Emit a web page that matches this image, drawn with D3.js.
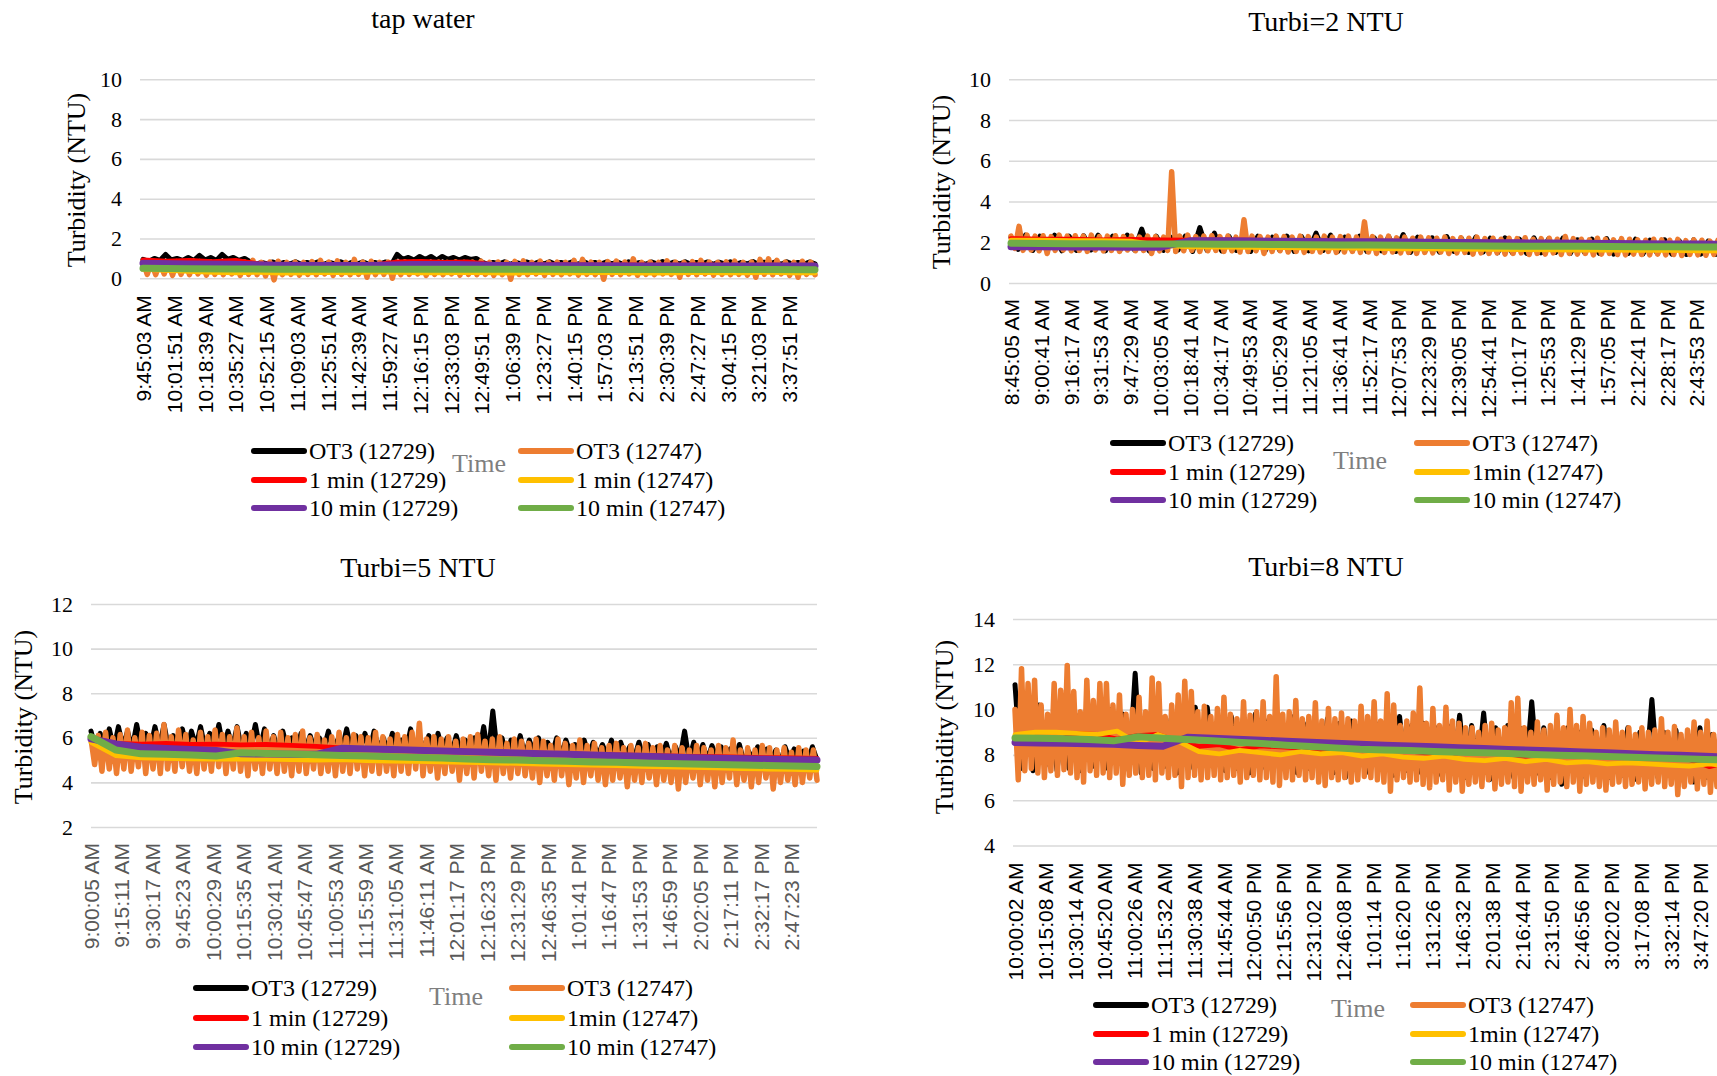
<!DOCTYPE html>
<html>
<head>
<meta charset="utf-8">
<title>Turbidity monitoring</title>
<script src="https://cdnjs.cloudflare.com/ajax/libs/d3/7.8.5/d3.min.js"></script>
<style>
  html, body { margin: 0; padding: 0; background: #ffffff; }
  svg { display: block; }
</style>
</head>
<body>
<svg id="chart" width="1717" height="1076"></svg>
<script>
// ---------------------------------------------------------------
// Series legend names and the x-axis time labels of each test
// ---------------------------------------------------------------
const namesTap = ["OT3 (12729)", "OT3 (12747)", "1 min (12729)", "1 min (12747)", "10 min (12729)", "10 min (12747)"];
const namesTurbi = ["OT3 (12729)", "OT3 (12747)", "1 min (12729)", "1min (12747)", "10 min (12729)", "10 min (12747)"];

const tapLabels = ["9:45:03 AM","10:01:51 AM","10:18:39 AM","10:35:27 AM","10:52:15 AM","11:09:03 AM","11:25:51 AM","11:42:39 AM","11:59:27 AM","12:16:15 PM","12:33:03 PM","12:49:51 PM","1:06:39 PM","1:23:27 PM","1:40:15 PM","1:57:03 PM","2:13:51 PM","2:30:39 PM","2:47:27 PM","3:04:15 PM","3:21:03 PM","3:37:51 PM"];
const tapSpan = ["9:45:03 AM", "3:52:04 PM"];
const tapTicks = [0, 2, 4, 6, 8, 10];

const t2Labels = ["8:45:05 AM","9:00:41 AM","9:16:17 AM","9:31:53 AM","9:47:29 AM","10:03:05 AM","10:18:41 AM","10:34:17 AM","10:49:53 AM","11:05:29 AM","11:21:05 AM","11:36:41 AM","11:52:17 AM","12:07:53 PM","12:23:29 PM","12:39:05 PM","12:54:41 PM","1:10:17 PM","1:25:53 PM","1:41:29 PM","1:57:05 PM","2:12:41 PM","2:28:17 PM","2:43:53 PM"];
const t2Span = ["8:45:05 AM", "3:01:29 PM"];
const t2Ticks = [0, 2, 4, 6, 8, 10];

const t5Labels = ["9:00:05 AM","9:15:11 AM","9:30:17 AM","9:45:23 AM","10:00:29 AM","10:15:35 AM","10:30:41 AM","10:45:47 AM","11:00:53 AM","11:15:59 AM","11:31:05 AM","11:46:11 AM","12:01:17 PM","12:16:23 PM","12:31:29 PM","12:46:35 PM","1:01:41 PM","1:16:47 PM","1:31:53 PM","1:46:59 PM","2:02:05 PM","2:17:11 PM","2:32:17 PM","2:47:23 PM"];
const t5Span = ["9:00:05 AM", "3:00:20 PM"];
const t5Ticks = [2, 4, 6, 8, 10, 12];

const t8Labels = ["10:00:02 AM","10:15:08 AM","10:30:14 AM","10:45:20 AM","11:00:26 AM","11:15:32 AM","11:30:38 AM","11:45:44 AM","12:00:50 PM","12:15:56 PM","12:31:02 PM","12:46:08 PM","1:01:14 PM","1:16:20 PM","1:31:26 PM","1:46:32 PM","2:01:38 PM","2:16:44 PM","2:31:50 PM","2:46:56 PM","3:02:02 PM","3:17:08 PM","3:32:14 PM","3:47:20 PM"];
const t8Span = ["10:00:02 AM", "4:02:19 PM"];
const t8Ticks = [4, 6, 8, 10, 12, 14];

// ---------------------------------------------------------------
// Turbidity readings (NTU), evenly sampled over each run
// ---------------------------------------------------------------
// tap water
const tapOT3a = [0.95,0.85,1.0,0.9,1.2,0.92,1.0,0.9,1.05,0.9,1.15,0.92,1.05,0.9,1.2,0.95,1.05,0.9,1.0,
  0.82,0.7,0.8,0.72,0.82,0.7,0.8,0.72,0.83,0.7,0.8,0.72,0.82,0.7,0.8,0.72,0.83,0.7,0.8,0.72,0.82,0.7,0.8,0.72,0.82,0.7,
  1.2,0.95,1.05,0.92,1.1,0.95,1.1,0.92,1.1,0.95,1.05,0.92,1.05,0.95,1.0,
  0.82,0.7,0.8,0.72,0.83,0.7,0.8,0.72,0.82,0.7,
  0.81,0.72,0.83,0.7,0.8,0.72,0.82,0.7,0.84,0.72,
  0.8,0.7,0.82,0.72,0.81,0.7,0.83,0.72,0.8,0.7,
  0.82,0.72,0.84,0.7,0.81,0.72,0.83,0.7,0.8,0.72,
  0.82,0.7,0.81,0.72,0.83,0.7,0.8,0.72,0.84,0.7,
  0.81,0.72,0.82,0.7,0.83,0.72,0.8,0.7,0.82,0.72];
const tapOT3b = [0.85,0.2,0.8,0.18,0.82,0.22,0.78,0.15,0.84,0.2,0.8,0.18,0.86,0.22,0.8,0.16,0.82,0.2,0.79,0.18,
  0.83,0.22,0.8,0.15,0.82,0.2,0.9,0.18,0.8,0.12,0.82,-0.08,0.86,0.18,0.8,0.2,0.82,0.16,0.8,0.2,
  0.84,0.18,0.9,0.22,0.82,0.15,0.88,0.2,0.8,0.18,0.95,0.2,0.82,0.05,0.86,0.18,0.8,0.2,0.82,0.0,
  0.8,0.18,0.83,0.2,0.8,0.22,0.82,0.15,0.79,0.2,0.82,0.18,0.8,0.22,0.83,0.16,0.8,0.2,0.82,0.18,
  0.86,0.2,0.8,0.15,0.82,0.18,0.8,-0.05,0.85,0.2,0.88,0.18,0.8,0.22,0.86,0.15,0.8,0.2,0.82,0.18,
  0.8,0.22,0.9,0.16,0.95,0.2,0.82,0.18,0.8,-0.05,0.84,0.2,0.86,0.18,0.82,0.22,0.98,0.15,0.8,0.2,
  0.82,0.18,0.8,0.22,0.88,0.2,0.82,0.05,0.8,0.2,0.84,0.18,0.9,0.22,0.82,0.16,0.8,0.2,0.83,0.18,
  0.86,0.2,0.8,0.16,0.82,0.05,0.95,0.2,0.98,0.18,0.9,0.22,0.82,0.15,0.8,0.05,0.86,0.2,0.82,0.18];
const tap1minA = [0.92,0.86,0.9,0.84,0.9,0.72,0.68,0.7,0.68,0.7,0.68,0.82,0.85,0.8,0.83,0.7,0.68,0.67,0.68,0.67,0.66,0.67,0.66,0.66,0.67,0.66,0.65,0.66,0.65,0.66];
const tap1minB = [0.45,0.4,0.35,0.3,0.28,0.3,0.26,0.28,0.3,0.27,0.32,0.3,0.28,0.27,0.3,0.28,0.26,0.3,0.28,0.27,0.3,0.28,0.26,0.28,0.3,0.27,0.28,0.3,0.28,0.27];
const tap10minA = [0.76,0.72,0.7,0.66,0.64,0.64,0.69,0.69,0.64,0.63,0.63,0.62,0.62,0.62,0.62,0.62];
const tap10minB = [0.5,0.48,0.47,0.46,0.46,0.45,0.45,0.46,0.45,0.45,0.44,0.44,0.44,0.44,0.44,0.43];

// Turbi = 2 NTU
const t2OT3a = [2.25,1.65,2.35,1.6,2.3,1.62,2.35,1.58,2.3,1.6,2.32,1.62,2.35,1.58,2.3,1.6,2.35,1.62,2.65,1.58,
  2.3,1.6,2.25,1.62,2.3,1.55,2.72,1.6,2.45,1.58,2.3,1.6,2.28,1.55,2.3,1.58,2.25,1.6,2.3,1.55,
  2.28,1.58,2.45,1.6,2.35,1.55,2.25,1.58,2.3,1.55,2.22,1.58,2.28,1.55,2.38,1.5,2.25,1.55,2.22,1.52,
  2.28,1.55,2.2,1.5,2.25,1.52,2.2,1.48,2.22,1.5,2.15,1.45,2.22,1.48,2.15,1.5,2.2,1.45,2.12,1.48,
  2.15,1.45,2.18,1.42,2.1,1.45,2.15,1.42,2.1,1.45,2.12,1.42,2.08,1.4,2.12,1.42,2.05,1.4,2.08,1.42];
const t2OT3b = [2.3,1.7,2.78,1.6,2.35,1.62,2.3,1.58,2.32,1.45,2.28,1.6,2.35,1.62,2.3,1.58,2.32,1.6,2.3,1.55,
  2.35,1.62,2.28,1.58,2.3,1.6,2.32,1.55,2.28,1.62,2.3,1.58,2.25,1.6,2.3,1.45,2.28,1.58,2.25,1.6,
  5.46,1.55,2.3,1.58,2.35,1.6,2.28,1.55,2.3,1.58,2.32,1.6,2.28,1.55,2.3,1.58,2.25,1.52,3.1,1.55,
  2.3,1.58,2.28,1.45,2.25,1.55,2.3,1.58,2.28,1.52,2.25,1.55,2.3,1.5,2.28,1.55,2.25,1.52,2.3,1.55,
  2.25,1.5,2.28,1.52,2.3,1.55,2.25,1.5,3.0,1.52,2.28,1.45,2.25,1.5,2.3,1.52,2.22,1.48,2.25,1.5,
  2.2,1.45,2.25,1.5,2.22,1.48,2.2,1.52,2.25,1.45,2.18,1.48,2.22,1.5,2.2,1.42,2.25,1.48,2.18,1.45,
  2.2,1.48,2.15,1.42,2.2,1.45,2.18,1.48,2.22,1.4,2.15,1.45,2.18,1.42,2.2,1.48,2.15,1.4,2.28,1.45,
  2.18,1.42,2.15,1.45,2.12,1.38,2.2,1.42,2.15,1.45,2.12,1.4,2.18,1.38,2.15,1.42,2.12,1.4,2.1,1.38,
  2.15,1.42,2.12,1.38,2.1,1.4,2.14,1.35,2.08,1.4,2.12,1.38,2.1,1.36,2.06,1.4,2.1,1.35,2.05,1.38];
const t21minA = [2.18,2.15,2.15,2.12,2.14,2.12,2.1,2.12,2.1,2.08,2.08,2.06,2.05,2.05,2.03,2.02,2.0,2.0,1.98,1.97,1.96,1.95,1.94,1.93,1.92];
const t21minB = [2.1,2.1,2.08,2.08,2.05,1.85,1.78,1.76,1.75,1.74,1.72,1.72,1.7,1.68,1.68,1.66,1.65,1.64,1.63,1.62,1.62,1.6,1.6,1.58,1.58];
const t210minA = [1.78,1.78,1.77,1.77,1.76,1.76,2.08,2.07,2.06,2.05,2.04,2.03,2.02,2.01,2.0,1.99,1.98,1.97,1.96,1.95,1.94,1.93,1.92,1.91,1.9];
const t210minB = [1.95,1.94,1.93,1.93,1.92,1.92,1.91,1.9,1.9,1.89,1.88,1.87,1.86,1.85,1.84,1.83,1.82,1.81,1.8,1.8,1.79,1.78,1.78,1.77,1.76];

// Turbi = 5 NTU
const t5OT3a = [6.3,5.5,6.2,5.6,6.4,5.5,6.5,5.6,6.3,5.5,6.6,5.6,6.2,5.5,6.5,5.6,6.6,5.5,6.1,5.6,
  6.4,5.5,6.3,5.6,6.5,5.5,6.2,5.6,6.6,5.5,6.3,5.6,6.5,5.5,6.2,5.6,6.6,5.5,6.4,5.5,
  6.1,5.4,6.3,5.5,6.0,5.4,6.2,5.5,6.1,5.4,6.0,5.5,6.3,5.4,5.9,5.5,6.4,5.4,6.1,5.5,
  6.2,5.4,6.3,5.5,6.0,5.4,6.2,5.5,5.9,5.4,6.4,5.4,6.0,5.4,6.1,5.3,6.2,5.4,6.0,5.3,
  6.1,5.3,5.9,5.2,6.0,5.3,6.5,5.2,7.2,5.3,6.0,5.2,5.9,5.3,6.1,5.2,5.9,5.3,6.0,5.2,
  5.8,5.3,6.0,5.2,5.9,5.3,5.7,5.2,5.9,5.2,5.8,5.2,5.7,5.2,5.9,5.1,5.8,5.2,5.6,5.1,
  5.8,5.1,5.7,5.0,5.6,5.1,5.75,5.0,5.6,5.1,6.3,5.0,5.8,5.1,5.7,5.0,5.65,5.1,5.6,5.0,
  5.5,5.0,5.7,4.9,5.4,5.0,5.6,4.9,5.5,5.0,5.45,4.9,5.6,5.0,5.5,4.9,5.4,4.9,5.6,5.0];
const t5OT3b = [5.95,4.8,6.1,4.5,6.25,4.6,6.0,4.4,6.15,4.6,6.35,4.5,6.0,4.7,6.25,4.4,6.1,4.6,6.2,4.4,
  6.6,4.6,6.05,4.5,6.35,4.7,6.15,4.5,5.9,4.4,6.25,4.6,6.05,4.5,6.35,4.7,6.15,4.4,6.05,4.6,
  6.45,4.5,6.05,4.3,6.25,4.6,6.0,4.4,6.3,4.6,6.05,4.4,6.25,4.5,6.0,4.3,6.15,4.5,6.3,4.4,
  6.0,4.6,6.15,4.4,5.9,4.5,6.05,4.3,6.25,4.5,6.0,4.4,6.15,4.6,6.05,4.3,6.0,4.5,6.25,4.4,
  6.05,4.5,5.95,4.3,6.15,4.5,6.05,4.4,6.25,4.6,6.65,4.3,5.95,4.5,6.05,4.2,5.95,4.4,6.05,4.5,
  5.85,4.1,5.95,4.4,6.05,4.2,6.15,4.5,5.85,4.3,5.95,4.1,6.05,4.4,5.75,4.2,5.95,4.4,5.85,4.3,
  5.75,4.2,5.95,4.0,5.85,4.3,5.65,4.1,5.95,4.3,5.75,3.9,5.65,4.2,5.9,4.0,5.65,4.3,5.75,4.1,
  5.55,3.9,5.65,4.1,5.75,4.2,5.55,3.8,5.65,4.1,5.55,4.0,5.75,4.2,5.55,3.9,5.65,4.1,5.45,4.0,
  5.65,3.7,5.55,4.0,5.45,4.2,5.65,3.9,5.55,4.1,5.45,3.8,5.65,4.0,5.55,4.2,5.9,3.9,5.45,4.1,
  5.55,3.8,5.45,4.0,5.65,4.2,5.55,3.7,5.45,4.0,5.55,4.1,5.35,3.9,5.55,4.0,5.45,4.2,5.45,4.1];
const t51minA = [6.0,5.75,5.72,5.75,5.7,5.72,5.68,5.7,5.66,5.62,5.55,5.5,5.48,5.45,5.42,5.4,5.37,5.34,5.31,5.28,5.26,5.23,5.21,5.19,5.17,5.15,5.13,5.11,5.1,5.08];
const t51minB = [5.8,5.2,5.1,5.08,5.06,5.05,5.05,5.04,5.02,5.0,5.02,4.98,4.96,4.94,4.92,4.9,4.88,4.85,4.82,4.8,4.78,4.75,4.72,4.7,4.68,4.65,4.62,4.6,4.58,4.55];
const t510minA = [5.95,5.72,5.58,5.52,5.47,5.43,5.28,5.27,5.26,5.26,5.53,5.5,5.47,5.44,5.41,5.38,5.35,5.32,5.29,5.26,5.23,5.2,5.17,5.14,5.11,5.08,5.06,5.04,5.02,5.0];
const t510minB = [6.05,5.45,5.28,5.26,5.23,5.18,5.33,5.3,5.27,5.24,5.21,5.18,5.15,5.12,5.09,5.05,5.02,5.0,4.97,4.95,4.92,4.9,4.87,4.85,4.82,4.8,4.78,4.76,4.73,4.71];

// Turbi = 8 NTU
const t8OT3a = [11.1,7.4,9.8,7.3,10.2,7.5,9.6,7.3,10.0,7.4,9.8,7.3,10.3,7.5,9.7,7.4,10.0,7.6,9.8,7.3,
  11.6,7.2,9.7,7.4,9.9,7.5,9.6,7.2,9.8,7.4,10.1,7.3,10.1,7.5,9.5,7.3,9.7,7.4,9.6,7.2,
  9.8,7.4,9.5,7.3,9.6,7.5,9.7,7.2,9.4,7.4,9.5,7.3,9.6,7.2,9.4,7.0,9.5,7.3,9.3,7.2,
  9.4,7.4,9.2,7.1,9.7,7.3,9.3,7.2,9.4,7.3,9.2,7.1,9.3,7.3,9.75,7.0,9.3,7.2,9.85,6.9,
  9.2,7.2,9.3,7.0,9.2,7.1,10.35,7.2,9.2,7.0,9.0,6.7,9.2,7.1,9.0,7.0,9.1,7.2,9.3,7.0,
  9.0,7.1,9.2,6.9,9.0,7.1,10.45,7.0,9.0,7.1,9.1,6.9,8.9,6.8,9.2,7.0,8.9,7.1,9.0,6.9];
const t8OT3b = [10.0,6.9,11.8,7.3,11.15,7.4,11.3,7.2,10.2,7.0,9.8,7.3,11.15,7.1,10.85,7.35,11.95,7.2,10.8,7.0,
  9.9,6.8,11.3,7.3,10.4,7.1,11.15,7.2,11.15,7.0,10.2,7.2,10.65,6.7,9.8,7.1,10.0,7.2,10.55,7.0,
  9.9,7.1,11.4,6.9,11.15,7.2,9.7,7.0,10.2,7.1,10.65,6.6,11.25,7.0,10.8,7.1,9.9,6.9,10.15,7.0,
  9.7,7.1,10.05,6.9,10.55,7.0,9.8,7.1,9.6,6.8,10.35,7.0,9.75,7.1,9.9,6.9,10.35,7.0,9.7,6.8,
  11.45,6.65,9.8,7.0,9.9,6.9,10.4,7.1,9.6,6.9,9.7,7.0,10.3,6.8,9.5,6.65,10.05,7.0,9.6,6.9,
  9.85,7.0,9.6,6.8,9.5,6.9,10.15,7.05,9.7,7.0,10.35,6.9,9.5,6.8,10.7,6.4,10.2,6.9,9.3,7.0,
  9.5,6.8,9.85,6.9,10.95,6.7,9.4,6.55,10.05,6.8,9.3,6.9,10.1,6.45,9.5,6.8,9.4,6.4,9.2,6.7,
  9.2,6.8,9.0,6.6,9.3,6.9,9.4,6.5,9.1,6.7,9.2,6.8,10.3,6.6,10.5,6.4,9.2,6.8,9.0,6.7,
  9.45,6.9,9.1,6.45,9.3,6.7,9.75,6.8,9.2,6.6,10.0,6.8,9.3,6.4,9.7,6.7,9.4,6.8,9.0,6.6,
  9.2,6.45,9.1,6.7,9.45,6.8,9.0,6.6,9.2,6.7,8.9,6.8,9.2,6.5,9.0,6.7,9.1,6.8,9.6,6.6,
  9.0,6.7,9.25,6.25,8.9,6.6,9.1,6.8,9.45,6.5,9.0,6.7,9.5,6.35,8.9,6.6,9.2,6.7,9.0,6.5];
const t81minA = [8.7,8.55,8.6,8.95,8.9,8.7,8.85,8.9,8.6,8.38,8.45,8.22,8.4,8.35,8.3,8.1,8.3,8.45,8.3,8.2,8.1,7.97,8.15,8.1,8.05,7.95,8.05,8.0,7.95,8.0,7.95,8.07,7.9,7.8,7.48,7.7];
const t81minB = [8.9,9.0,9.0,8.95,8.9,9.05,8.5,8.9,8.6,8.15,8.05,8.2,8.1,8.0,8.15,8.05,8.1,7.95,8.05,7.9,7.85,7.95,7.8,7.75,7.85,7.7,7.8,7.65,7.7,7.6,7.65,7.6,7.55,7.5,7.6,7.5];
const t810minA = [8.55,8.53,8.51,8.49,8.47,8.42,8.38,8.78,8.74,8.69,8.65,8.6,8.56,8.51,8.47,8.43,8.39,8.36,8.32,8.28,8.24,8.2,8.17,8.13,8.09,8.05,8.01,7.98,7.94,7.9];
const t810minB = [8.75,8.73,8.71,8.68,8.62,8.8,8.74,8.68,8.62,8.56,8.5,8.43,8.37,8.31,8.25,8.22,8.19,8.15,8.12,8.09,8.06,8.02,7.99,7.96,7.93,7.9,7.86,7.83,7.8,7.77];

// ---------------------------------------------------------------
// Styling shared by all four panels
// ---------------------------------------------------------------
const seriesColors = ["#000000", "#ed7d31", "#ff0000", "#ffc000", "#7030a0", "#70ad47"];
const seriesWidths = [5, 5.5, 4.8, 4.8, 7, 7];
const serif = "'Liberation Serif', 'Times New Roman', serif";
const sans = "'Liberation Sans', Arial, sans-serif";

const panels = [
  { title: "tap water", names: namesTap, labels: tapLabels, span: tapSpan, yTicks: tapTicks,
    series: [tapOT3a, tapOT3b, tap1minA, tap1minB, tap10minA, tap10minB],
    gridL: 140, gridR: 815, x0: 143, x1: 815, yMinPx: 278.3, yMaxPx: 79.3,
    titleX: 423, titleY: 28, yTitleX: 76, yTitleY: 180, labelGap: 17, labelColor: "#000",
    legL: 251, legR: 518, rows: [451, 480, 508], timeX: 479, timeY: 463 },
  { title: "Turbi=2 NTU", names: namesTurbi, labels: t2Labels, span: t2Span, yTicks: t2Ticks,
    series: [t2OT3a, t2OT3b, t21minA, t21minB, t210minA, t210minB],
    gridL: 1009, gridR: 1730, x0: 1011, x1: 1730, yMinPx: 283, yMaxPx: 79.3,
    titleX: 1326, titleY: 31, yTitleX: 941, yTitleY: 182, labelGap: 16, labelColor: "#000",
    legL: 1110, legR: 1414, rows: [443, 472, 500], timeX: 1360, timeY: 460 },
  { title: "Turbi=5 NTU", names: namesTurbi, labels: t5Labels, span: t5Span, yTicks: t5Ticks,
    series: [t5OT3a, t5OT3b, t51minA, t51minB, t510minA, t510minB],
    gridL: 91, gridR: 817, x0: 91, x1: 817, yMinPx: 827, yMaxPx: 604,
    titleX: 418, titleY: 577, yTitleX: 23, yTitleY: 717, labelGap: 16, labelColor: "#595959",
    legL: 193, legR: 509, rows: [988, 1018, 1047], timeX: 456, timeY: 996 },
  { title: "Turbi=8 NTU", names: namesTurbi, labels: t8Labels, span: t8Span, yTicks: t8Ticks,
    series: [t8OT3a, t8OT3b, t81minA, t81minB, t810minA, t810minB],
    gridL: 1013, gridR: 1730, x0: 1015, x1: 1730, yMinPx: 845.5, yMaxPx: 619,
    titleX: 1326, titleY: 576, yTitleX: 944, yTitleY: 727, labelGap: 17, labelColor: "#000",
    legL: 1093, legR: 1410, rows: [1005, 1034, 1062], timeX: 1358, timeY: 1008 }
];

const parseT = d3.timeParse("%I:%M:%S %p");
const fmtT = d3.timeFormat("%-I:%M:%S %p");
const svg = d3.select("#chart");

function drawPanel(p) {
  const g = svg.append("g");
  const t0 = parseT(p.span[0]), t1 = parseT(p.span[1]);
  const x = d3.scaleTime().domain([t0, t1]).range([p.x0, p.x1]);
  const y = d3.scaleLinear()
    .domain([p.yTicks[0], p.yTicks[p.yTicks.length - 1]])
    .range([p.yMinPx, p.yMaxPx]);

  // horizontal gridlines with value labels
  const yAxis = d3.axisLeft(y)
    .tickValues(p.yTicks)
    .tickSize(-(p.gridR - p.gridL))
    .tickPadding(18)
    .tickFormat(d3.format("d"));
  const gy = g.append("g")
    .attr("transform", `translate(${p.gridL},0)`)
    .call(yAxis);
  gy.select(".domain").remove();
  gy.selectAll(".tick line").attr("stroke", "#d9d9d9").attr("stroke-width", 1.6);
  gy.selectAll(".tick text")
    .attr("font-family", serif).attr("font-size", 22).attr("fill", "#000");
  gy.attr("font-family", null).attr("font-size", null);

  // rotated time labels
  const xAxis = d3.axisBottom(x)
    .tickValues(p.labels.map(parseT))
    .tickFormat(fmtT)
    .tickSize(0)
    .tickPadding(0);
  const gx = g.append("g")
    .attr("transform", `translate(0,${p.yMinPx})`)
    .call(xAxis);
  gx.select(".domain").remove();
  gx.selectAll(".tick text")
    .attr("transform", "rotate(-90)")
    .attr("text-anchor", "end")
    .attr("x", -p.labelGap)
    .attr("y", 0)
    .attr("dy", "0.36em")
    .attr("font-family", sans)
    .attr("font-size", 21)
    .attr("fill", p.labelColor);

  // series lines, drawn in legend order
  p.series.forEach((vals, k) => {
    const idx = d3.scaleLinear().domain([0, vals.length - 1]).range([t0.getTime(), t1.getTime()]);
    const line = d3.line()
      .x((d, i) => x(new Date(idx(i))))
      .y(d => y(d));
    g.append("path")
      .datum(vals)
      .attr("d", line)
      .attr("fill", "none")
      .attr("stroke", seriesColors[k])
      .attr("stroke-width", seriesWidths[k])
      .attr("stroke-linejoin", "round")
      .attr("stroke-linecap", "round");
  });

  // title
  g.append("text")
    .attr("x", p.titleX).attr("y", p.titleY)
    .attr("text-anchor", "middle")
    .attr("font-family", serif).attr("font-size", 28).attr("fill", "#000")
    .text(p.title);

  // y-axis title
  g.append("text")
    .attr("transform", `translate(${p.yTitleX},${p.yTitleY}) rotate(-90)`)
    .attr("text-anchor", "middle")
    .attr("dy", "0.35em")
    .attr("font-family", serif).attr("font-size", 26).attr("fill", "#000")
    .text("Turbidity (NTU)");

  // x-axis title
  g.append("text")
    .attr("x", p.timeX).attr("y", p.timeY)
    .attr("text-anchor", "middle")
    .attr("dy", "0.35em")
    .attr("font-family", serif).attr("font-size", 26).attr("fill", "#7f7f7f")
    .text("Time");

  // legend: left column 12729, right column 12747
  const items = p.names.map((name, k) => ({
    name, color: seriesColors[k],
    sx: k % 2 === 0 ? p.legL : p.legR,
    sy: p.rows[Math.floor(k / 2)]
  }));
  const leg = g.append("g").selectAll("g").data(items).join("g")
    .attr("transform", d => `translate(${d.sx},${d.sy})`);
  leg.append("line")
    .attr("x1", 3).attr("x2", 53).attr("y1", 0).attr("y2", 0)
    .attr("stroke", d => d.color).attr("stroke-width", 6)
    .attr("stroke-linecap", "round");
  leg.append("text")
    .attr("x", 58).attr("y", 0).attr("dy", "0.33em")
    .attr("font-family", serif).attr("font-size", 24).attr("fill", "#000")
    .text(d => d.name);
}

panels.forEach(drawPanel);
</script>
</body>
</html>
